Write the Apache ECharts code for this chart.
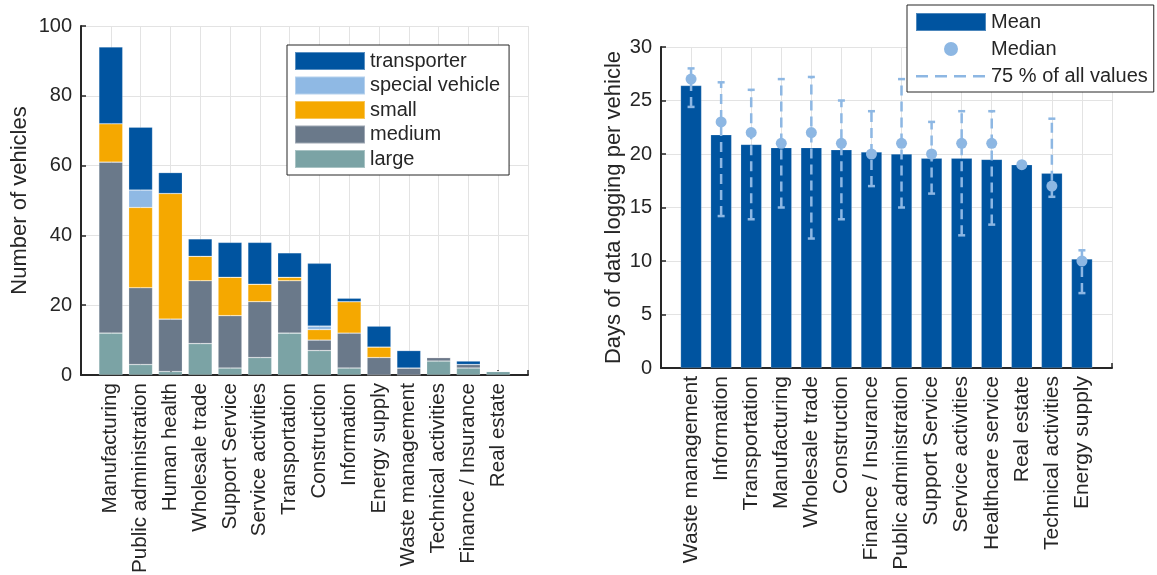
<!DOCTYPE html>
<html>
<head>
<meta charset="utf-8">
<title>Vehicles and data logging by sector</title>
<script src="https://cdn.jsdelivr.net/npm/echarts@6/dist/echarts.min.js"></script>
<style>
  html, body { margin: 0; padding: 0; background: #ffffff; }
  #chart { width: 1157px; height: 575px; }
</style>
</head>
<body>
<div id="chart"></div>
<script>
// ---- Vehicle counts per sector (stacked by vehicle class) ----
const sectors = ['Manufacturing', 'Public administration', 'Human health', 'Wholesale trade',
  'Support Service', 'Service activities', 'Transportation', 'Construction', 'Information',
  'Energy supply', 'Waste management', 'Technical activities', 'Finance / Insurance', 'Real estate'];
const large       = [12, 3, 1, 9, 2, 5, 12, 7, 2, 0, 0, 4, 2, 1];
const medium      = [49, 22, 15, 18, 15, 16, 15, 3, 10, 5, 2, 1, 1, 0];
const small       = [11, 23, 36, 7, 11, 5, 1, 3, 9, 3, 0, 0, 0, 0];
const special     = [0, 5, 0, 0, 0, 0, 0, 1, 0, 0, 0, 0, 0, 0];
const transporter = [22, 18, 6, 5, 10, 12, 7, 18, 1, 6, 5, 0, 1, 0];

// ---- Days of data logging per vehicle ----
const loggingSectors = ['Waste management', 'Information', 'Transportation', 'Manufacturing',
  'Wholesale trade', 'Construction', 'Finance / Insurance', 'Public administration',
  'Support Service', 'Service activities', 'Healthcare service', 'Real estate',
  'Technical activities', 'Energy supply'];
const meanDays   = [26.4, 21.8, 20.9, 20.6, 20.6, 20.4, 20.2, 20.0, 19.6, 19.6, 19.5, 19.0, 18.2, 10.2];
const medianDays = [27, 23, 22, 21, 22, 21, 20, 21, 20, 21, 21, 19, 17, 10];
const rangeLow   = [24.4, 14.2, 13.9, 15, 12.1, 13.9, 17, 15, 16.3, 12.4, 13.4, 19, 16, 7];
const rangeHigh  = [28, 26.7, 26, 27, 27.2, 25, 24, 27, 23, 24, 24, 19, 23.3, 11];

const yTicksLeft = { min: 0, max: 100, interval: 20 };
const yTicksRight = { min: 0, max: 30, interval: 5 };

const FONT = '"Liberation Sans", Arial, Helvetica, sans-serif';
const INK = '#262626';
const GRID_LINE = '#e3e3e3';
const C = {
  transporter: '#0054A0',
  special: '#8FB9E4',
  small: '#F5A800',
  medium: '#6A798A',
  large: '#7BA3A5',
  mean: '#0054A0',
  light: '#8DB7E3'
};

// value first, position second: the value dimension is the one that gets stacked
const pos = (arr) => arr.map((v, i) => [v, i + 1]);
const ENC = { x: 1, y: 0 };

function xAxisFor(gridIndex, names, size) {
  return {
    type: 'value', gridIndex, min: 0, max: 15, interval: 1,
    axisLine: { show: true, lineStyle: { color: INK, width: 2 } },
    axisTick: { show: true, inside: true, length: 5, lineStyle: { color: INK, width: 1.5 } },
    splitLine: { show: true, lineStyle: { color: GRID_LINE, width: 1 } },
    axisLabel: {
      rotate: 90, margin: 8, fontSize: size, color: INK, fontFamily: FONT,
      formatter: (v) => names[v - 1] || ''
    }
  };
}

function yAxisFor(gridIndex, ticks, name, gap) {
  return {
    type: 'value', gridIndex, min: ticks.min, max: ticks.max, interval: ticks.interval,
    name, nameLocation: 'middle', nameGap: gap,
    nameTextStyle: { fontSize: 22, color: INK, fontFamily: FONT },
    axisLine: { show: true, lineStyle: { color: INK, width: 2 } },
    axisTick: { show: true, inside: true, length: 5, lineStyle: { color: INK, width: 1.5 } },
    splitLine: { show: true, lineStyle: { color: GRID_LINE, width: 1 } },
    axisLabel: { margin: 9, fontSize: 20, color: INK, fontFamily: FONT }
  };
}

function stackBar(name, values, color) {
  return {
    name, type: 'bar', xAxisIndex: 0, yAxisIndex: 0, stack: 'vehicles',
    barWidth: '80%', data: pos(values), encode: ENC,
    itemStyle: { color, borderColor: 'rgba(255,255,255,0.35)', borderWidth: 0.6 }
  };
}

const chart = echarts.init(document.getElementById('chart'), null, { renderer: 'canvas' });

// legend icons laid out in a 70 x 18 box (corner specks fix the box size)
const dashIcon = 'path://M0,0h0.01v0.01h-0.01z M0,8h12v2.4h-12z M19,8h12v2.4h-12z M38,8h12v2.4h-12z M57,8h12v2.4h-12z M70,18h-0.01v-0.01h0.01z';
const dotIcon = 'path://M0,0h0.01v0.01h-0.01z M28,9a7,7 0 1,0 14,0a7,7 0 1,0 -14,0z M70,18h-0.01v-0.01h0.01z';

chart.setOption({
  animation: false,
  backgroundColor: '#ffffff',
  textStyle: { fontFamily: FONT },
  grid: [
    { left: 81, top: 26, width: 447, height: 349, containLabel: false, outerBoundsMode: 'none' },
    { left: 661, top: 47, width: 451, height: 321, containLabel: false, outerBoundsMode: 'none' }
  ],
  xAxis: [xAxisFor(0, sectors, 20.6), xAxisFor(1, loggingSectors, 21)],
  yAxis: [
    yAxisFor(0, yTicksLeft, 'Number of vehicles', 50),
    yAxisFor(1, yTicksRight, 'Days of data logging per vehicle', 36)
  ],
  legend: [
    {
      orient: 'vertical', left: 287, top: 45,
      data: ['transporter', 'special vehicle', 'small', 'medium', 'large'],
      itemWidth: 70, itemHeight: 18, itemGap: 4.5,
      padding: [6, 9, 6, 7],
      borderColor: INK, borderWidth: 1, backgroundColor: '#ffffff',
      icon: 'rect', selectedMode: false,
      textStyle: { fontSize: 20, lineHeight: 20, color: INK, fontFamily: FONT }
    },
    {
      orient: 'vertical', left: 907, top: 5,
      data: [
        { name: 'Mean', icon: 'rect' },
        { name: 'Median', icon: dotIcon },
        { name: '75 % of all values', icon: dashIcon }
      ],
      itemWidth: 70, itemHeight: 18, itemGap: 7,
      padding: [7, 6, 6, 8],
      borderColor: INK, borderWidth: 1, backgroundColor: '#ffffff',
      selectedMode: false,
      textStyle: { fontSize: 20, lineHeight: 20, color: INK, fontFamily: FONT }
    }
  ],
  series: [
    stackBar('large', large, C.large),
    stackBar('medium', medium, C.medium),
    stackBar('small', small, C.small),
    stackBar('special vehicle', special, C.special),
    stackBar('transporter', transporter, C.transporter),
    {
      name: 'Mean', type: 'bar', xAxisIndex: 1, yAxisIndex: 1,
      barWidth: '70%', data: pos(meanDays), encode: ENC,
      itemStyle: { color: C.mean, borderColor: 'rgba(255,255,255,0.3)', borderWidth: 0.6 },
      z: 2
    },
    {
      name: '75 % of all values', type: 'custom', xAxisIndex: 1, yAxisIndex: 1,
      itemStyle: { color: C.light },
      data: rangeLow.map((lo, i) => [i + 1, lo, rangeHigh[i]]),
      encode: { x: 0, y: [1, 2] },
      z: 3,
      renderItem: (params, api) => {
        const x = api.value(0);
        const lo = api.coord([x, api.value(1)]);
        const hi = api.coord([x, api.value(2)]);
        const cap = 3.5;
        const stroke = C.light;
        return {
          type: 'group',
          children: [
            { type: 'line', shape: { x1: lo[0], y1: lo[1], x2: hi[0], y2: hi[1] },
              style: { stroke, lineWidth: 2.5, lineDash: [10, 6] } },
            { type: 'line', shape: { x1: lo[0] - cap, y1: lo[1], x2: lo[0] + cap, y2: lo[1] },
              style: { stroke, lineWidth: 2.5 } },
            { type: 'line', shape: { x1: hi[0] - cap, y1: hi[1], x2: hi[0] + cap, y2: hi[1] },
              style: { stroke, lineWidth: 2.5 } }
          ]
        };
      }
    },
    {
      name: 'Median', type: 'scatter', xAxisIndex: 1, yAxisIndex: 1,
      symbol: 'circle', symbolSize: 11, data: pos(medianDays), encode: ENC,
      itemStyle: { color: C.light, opacity: 1 },
      z: 4
    }
  ]
});
</script>
</body>
</html>
